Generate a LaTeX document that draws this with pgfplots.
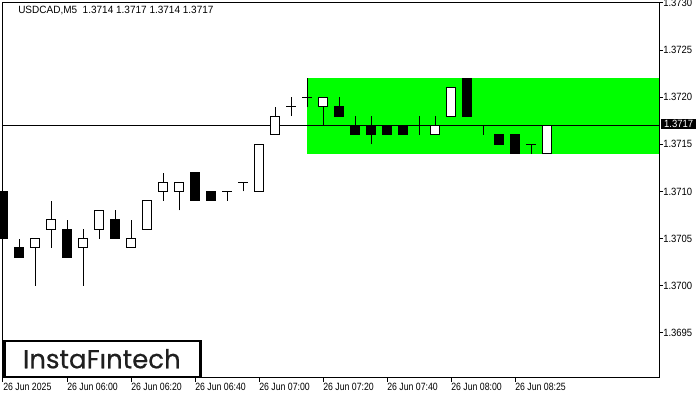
\documentclass[border=0pt]{standalone}
\usepackage{fontspec}
\setmainfont{Liberation Sans}[FakeStretch=0.83]
\newfontfamily\yfont{Liberation Sans}[FakeStretch=0.9]
\newfontfamily\tfont{Liberation Sans}[FakeStretch=0.95]
\newfontfamily\logofont{Poppins}[FakeBold=0.6]
\usepackage{pgfplots}
\usepackage{pgfplotstable}
\pgfplotsset{compat=1.18}
\definecolor{mtgreen}{RGB}{0,255,0}

% x = bar index (5-minute bars), O H L C
\pgfplotstableread{
x O H L C
0 1.3710 1.3710 1.3705 1.3705
1 1.3704 1.3705 1.3703 1.3703
2 1.3704 1.3705 1.3700 1.3705
3 1.3706 1.3709 1.3704 1.3707
4 1.3706 1.3707 1.3703 1.3703
5 1.3704 1.3706 1.3700 1.3705
6 1.3706 1.3708 1.3705 1.3708
7 1.3707 1.3708 1.3705 1.3705
8 1.3704 1.3707 1.3704 1.3705
9 1.3706 1.3709 1.3706 1.3709
10 1.3710 1.3712 1.3709 1.3711
11 1.3710 1.3711 1.3708 1.3711
12 1.3712 1.3712 1.3709 1.3709
13 1.3710 1.3710 1.3709 1.3709
14 1.3710 1.3710 1.3709 1.3710
15 1.3711 1.3711 1.3710 1.3711
16 1.3710 1.3715 1.3710 1.3715
17 1.3716 1.3719 1.3716 1.3718
18 1.3719 1.3720 1.3718 1.3719
19 1.3720 1.3722 1.3719 1.3720
20 1.3719 1.3720 1.3717 1.3720
21 1.3719 1.3720 1.3718 1.3718
22 1.3717 1.3718 1.3716 1.3716
23 1.3717 1.3718 1.3715 1.3716
24 1.3717 1.3717 1.3716 1.3716
25 1.3717 1.3717 1.3716 1.3716
26 1.3717 1.3718 1.3716 1.3717
27 1.3716 1.3718 1.3716 1.3717
28 1.3718 1.3721 1.3718 1.3721
29 1.3722 1.3722 1.3718 1.3718
30 1.3717 1.3717 1.3716 1.3717
31 1.3716 1.3716 1.3715 1.3715
32 1.3716 1.3716 1.3714 1.3714
33 1.3715 1.3715 1.3714 1.3715
34 1.3714 1.3717 1.3714 1.3717
}\candles

\newcommand{\candle}[5]{%
  \pgfmathsetmacro{\xl}{#1-0.3}%
  \pgfmathsetmacro{\xr}{#1+0.3}%
  \ifdim #5pt<#2pt\relax \def\fc{black}\else\def\fc{white}\fi
  \edef\doit{%
    \noexpand\addplot[black, line width=0.75pt, forget plot] coordinates {(#1,#4) (#1,#3)};%
    \noexpand\addplot[draw=black, fill=\fc, line width=0.75pt, forget plot] coordinates {(\xl,#2) (\xr,#2) (\xr,#5) (\xl,#5)} -- cycle;%
  }\doit}

\begin{document}
\begin{tikzpicture}
\useasboundingbox (0,0) rectangle (525pt,300pt);
\begin{axis}[
  at={(2.25pt,16.5pt)}, anchor=south west,
  width=492pt, height=281.25pt, scale only axis,
  xmin=0, xmax=41, ymin=1.36902, ymax=1.3730,
  clip=false, axis on top,
  axis line style={black, line width=0.75pt},
  ytick={1.3695,1.3700,1.3705,1.3710,1.3715,1.3720,1.3725,1.3730},
  yticklabels={1.3695,1.3700,1.3705,1.3710,1.3715,1.3720,1.3725,1.3730},
  ytick pos=right, yticklabel pos=right,
  xtick={0,4,8,12,16,20,24,28,32},
  xticklabels={26 Jun 2025,26 Jun 06:00,26 Jun 06:20,26 Jun 06:40,26 Jun 07:00,26 Jun 07:20,26 Jun 07:40,26 Jun 08:00,26 Jun 08:25},
  xtick pos=bottom,
  tick align=outside, major tick length=3pt,
  tick style={black, line width=0.75pt},
  yticklabel style={anchor=west, inner sep=0pt, font=\yfont\fontsize{7.9}{9}\selectfont},
  xticklabel style={anchor=north west, inner sep=0pt, yshift=-0.5pt, font=\fontsize{7.9}{9}\selectfont},
]
\addplot[fill=mtgreen, draw=none, forget plot] coordinates {(19,1.3714) (40.97,1.3714) (40.97,1.3722) (19,1.3722)} -- cycle;
\addplot[black, line width=0.75pt, forget plot] coordinates {(0,1.3717) (41,1.3717)};
\pgfplotstablegetrowsof{\candles}
\pgfmathtruncatemacro{\N}{\pgfplotsretval-1}
\pgfplotsforeachungrouped \i in {0,...,\N}{%
  \pgfplotstablegetelem{\i}{x}\of\candles \let\cx\pgfplotsretval
  \pgfplotstablegetelem{\i}{O}\of\candles \let\co\pgfplotsretval
  \pgfplotstablegetelem{\i}{H}\of\candles \let\ch\pgfplotsretval
  \pgfplotstablegetelem{\i}{L}\of\candles \let\cl\pgfplotsretval
  \pgfplotstablegetelem{\i}{C}\of\candles \let\cc\pgfplotsretval
  \candle{\cx}{\co}{\ch}{\cl}{\cc}%
}
\end{axis}
% title
\node[anchor=base west, inner sep=0pt] at (13.5pt,289.5pt) {\tfont\fontsize{7.9}{9}\selectfont USDCAD,M5\ \ 1.3714 1.3717 1.3714 1.3717};
% current price box
\node[fill=black, text=white, inner sep=0pt, minimum width=26.6pt, minimum height=7.5pt, anchor=west] at (495.5pt,207pt) {\yfont\fontsize{7.9}{9}\selectfont 1.3717};
% logo
\draw[black, line width=1.9pt, fill=white] (3.2pt,17.25pt) rectangle (150.35pt,44.25pt);
\node[anchor=base west, inner sep=0pt, text=black!88] at (17pt,23.8pt) {\logofont\fontsize{19.5}{21}\selectfont InstaFıntech};
\end{tikzpicture}
\end{document}
